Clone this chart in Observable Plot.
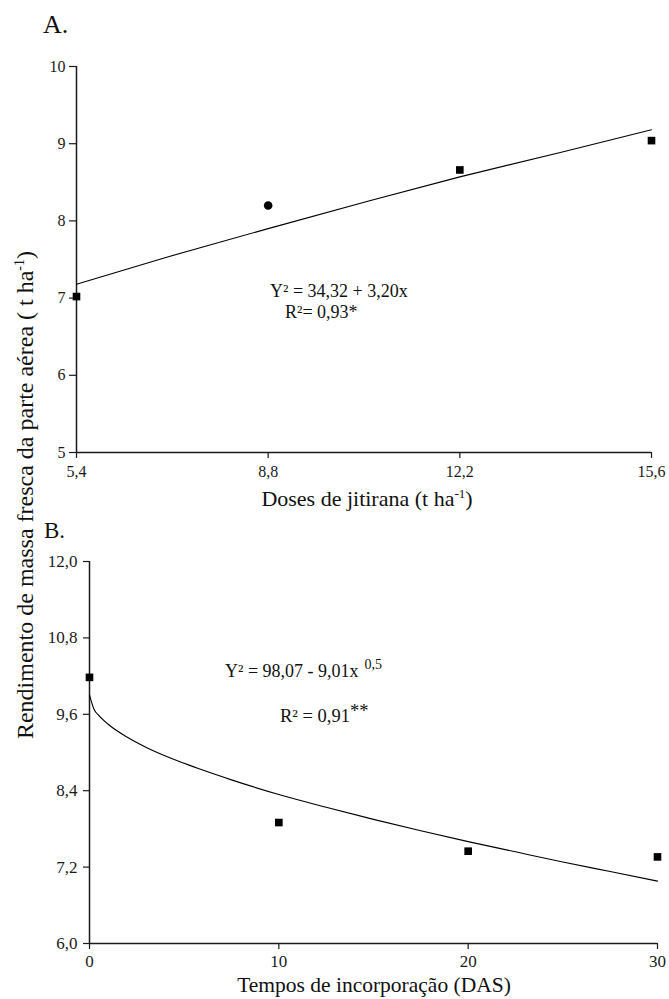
<!DOCTYPE html>
<html><head><meta charset="utf-8">
<script src="https://cdn.jsdelivr.net/npm/d3@7"></script>
<script src="https://cdn.jsdelivr.net/npm/@observablehq/plot@0.6"></script>
<style>
body{margin:0;background:#fff;}
#wrap{position:relative;width:669px;height:999px;font-family:"Liberation Serif",Tinos,"Times New Roman",Times,"Nimbus Roman","DejaVu Serif",serif;color:#1a1a1a;overflow:hidden;}
#wrap > svg, #wrap > div{position:absolute;left:0;}
#wrap text{font-family:"Liberation Serif",Tinos,"Times New Roman",Times,"Nimbus Roman","DejaVu Serif",serif !important;}
</style></head><body><div id="wrap"></div>
<script>
// ---------- Panel A: Doses de jitirana ----------
const dosesA = [5.4, 8.8, 12.2, 15.6];
const yieldA = [7.02, 8.20, 8.66, 9.04];
const markerA = ["square", "circle", "square", "square"];
const fitXA = [5.4, 7.0, 8.8, 10.6, 12.2, 14.0, 15.6];
const fitYA = [7.18, 7.53, 7.90, 8.26, 8.57, 8.89, 9.18];
const xTicksA = [5.4, 8.8, 12.2, 15.6];
const yTicksA = [5, 6, 7, 8, 9, 10];

// ---------- Panel B: Tempos de incorporação ----------
const tempoB = [0, 10, 20, 30];
const yieldB = [10.18, 7.90, 7.45, 7.36];
const fitXB = [0, 0.25, 0.5, 1, 2, 3, 5, 7.5, 10, 12.5, 15, 17.5, 20, 22.5, 25, 27.5, 30];
const fitYB = [9.90, 9.67, 9.58, 9.44, 9.24, 9.08, 8.83, 8.57, 8.34, 8.14, 7.95, 7.77, 7.60, 7.44, 7.28, 7.13, 6.98];
const xTicksB = [0, 10, 20, 30];
const yTicksB = [6.0, 7.2, 8.4, 9.6, 10.8, 12.0];

const comma1 = d => d.toFixed(1).replace(".", ",");
const font = '"Liberation Serif",Tinos,"Times New Roman",Times,"Nimbus Roman","DejaVu Serif",serif';

const ptsA = dosesA.map((x, i) => ({x, y: yieldA[i], s: markerA[i]}));
const fitA = fitXA.map((x, i) => ({x, y: fitYA[i]}));
const ptsB = tempoB.map((x, i) => ({x, y: yieldB[i]}));
const fitB = fitXB.map((x, i) => ({x, y: fitYB[i]}));

const plotA = Plot.plot({
  width: 669, height: 500,
  marginLeft: 76, marginRight: 18, marginTop: 66, marginBottom: 48,
  x: {domain: [5.4, 15.6]},
  y: {domain: [5, 10]},
  style: {fontFamily: font, fontSize: "16px", color: "#1a1a1a", background: "transparent", overflow: "visible"},
  marks: [
    Plot.axisX(xTicksA, {tickSize: 6, tickPadding: 7, tickFormat: comma1, label: null, strokeWidth: 1.2}),
    Plot.axisY(yTicksA, {tickSize: 7, tickPadding: 4, tickFormat: d => String(d), label: null, strokeWidth: 1.2}),
    Plot.ruleY([5], {stroke: "#1a1a1a", strokeWidth: 1.5}),
    Plot.ruleX([5.4], {stroke: "#1a1a1a", strokeWidth: 1.5}),
    Plot.line(fitA, {x: "x", y: "y", stroke: "#000", strokeWidth: 1.1}),
    Plot.dot(ptsA, {x: "x", y: "y", symbol: "s", r: 4.3, fill: "#000", stroke: null})
  ]
});
plotA.style.top = "0px";

const plotB = Plot.plot({
  width: 669, height: 479,
  marginLeft: 89, marginRight: 12, marginTop: 41, marginBottom: 56,
  x: {domain: [0, 30]},
  y: {domain: [6, 12]},
  style: {fontFamily: font, fontSize: "17px", color: "#1a1a1a", background: "transparent", overflow: "visible"},
  marks: [
    Plot.axisX(xTicksB, {tickSize: 6, tickPadding: 5, tickFormat: d => String(d), label: null, strokeWidth: 1.2}),
    Plot.axisY(yTicksB, {tickSize: 6, tickPadding: 6, tickFormat: comma1, label: null, strokeWidth: 1.2}),
    Plot.ruleY([6], {stroke: "#1a1a1a", strokeWidth: 1.5}),
    Plot.ruleX([0], {stroke: "#1a1a1a", strokeWidth: 1.5}),
    Plot.line(fitB, {x: "x", y: "y", stroke: "#000", strokeWidth: 1.1, curve: "monotone-x"}),
    Plot.dot(ptsB, {x: "x", y: "y", symbol: "square", r: 4.3, fill: "#000", stroke: null})
  ]
});
plotB.style.top = "520px";

const wrap = document.getElementById("wrap");
wrap.appendChild(plotA);
wrap.appendChild(plotB);

// text overlay (titles, panel letters, equations)
const overlay = `
<svg width="669" height="999" style="top:0;left:0;pointer-events:none" xmlns="http://www.w3.org/2000/svg" fill="#111">
  <text x="43" y="33" font-size="26">A.</text>
  <text x="44" y="538" font-size="23">B.</text>
  <text transform="translate(33,495) rotate(-90)" text-anchor="middle" font-size="24">Rendimento de massa fresca da parte aérea ( t ha<tspan font-size="14" dy="-9">-1</tspan><tspan dy="9">)</tspan></text>
  <text x="367" y="506" text-anchor="middle" font-size="22">Doses de jitirana (t ha<tspan font-size="13" dy="-8">-1</tspan><tspan dy="8">)</tspan></text>
  <text x="374" y="992" text-anchor="middle" font-size="21.5">Tempos de incorporação (DAS)</text>
  <text x="270" y="297" font-size="18">Y² = 34,32 + 3,20x</text>
  <text x="285" y="318" font-size="18">R²= 0,93*</text>
  <text x="225" y="677" font-size="18">Y² = 98,07 - 9,01x<tspan font-size="14" dy="-8" dx="6">0,5</tspan></text>
  <text x="280" y="722" font-size="18.5">R² = 0,91<tspan dy="-5">**</tspan></text>
</svg>`;
const holder = document.createElement("div");
holder.style.top = "0px";
holder.innerHTML = overlay;
wrap.appendChild(holder);
</script>
</body></html>
